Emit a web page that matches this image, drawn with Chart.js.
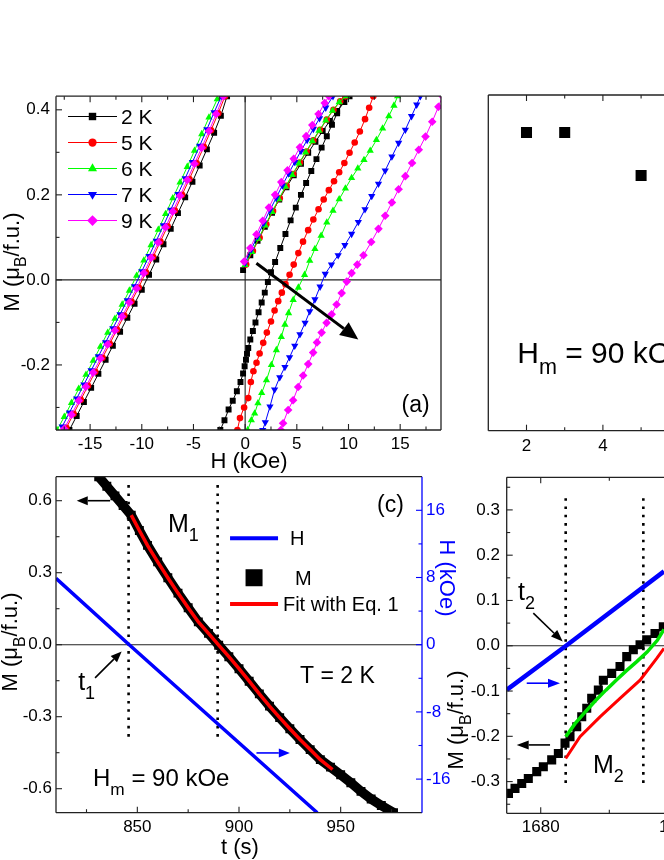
<!DOCTYPE html>
<html>
<head>
<meta charset="utf-8">
<title>Magnetization loops and field sweeps</title>
<script src="https://cdn.jsdelivr.net/npm/chart.js@4.4.1/dist/chart.umd.min.js"></script>
<style>
  html, body { margin: 0; padding: 0; background: #fff; width: 664px; height: 860px; overflow: hidden; }
  canvas { position: absolute; }
</style>
</head>
<body>
<canvas id="chartA" width="460" height="395" style="left:0;top:80px"></canvas>
<canvas id="chartB" width="300" height="395" style="left:440px;top:80px"></canvas>
<canvas id="chartC" width="470" height="405" style="left:0;top:455px"></canvas>
<canvas id="chartD" width="320" height="405" style="left:420px;top:455px"></canvas>
<script>
const FONT = '"Liberation Sans", Arial, Helvetica, sans-serif';
Chart.defaults.font.family = FONT;
Chart.defaults.font.size = 17;
Chart.defaults.color = '#000';

// ---------- panel (a): M(H) at several temperatures ----------
const tempLabels = ['2 K', '5 K', '6 K', '7 K', '9 K'];

// [H (kOe), M (muB/f.u.)]
const left2K = [[-17.0,-0.353],[-16.3,-0.320],[-15.6,-0.287],[-14.9,-0.254],[-14.2,-0.221],[-13.5,-0.188],[-12.8,-0.155],[-12.1,-0.122],[-11.4,-0.089],[-10.7,-0.056],[-10.0,-0.023],[-9.3,0.012],[-8.6,0.048],[-7.9,0.084],[-7.2,0.120],[-6.5,0.157],[-5.8,0.194],[-5.1,0.231],[-4.4,0.269],[-3.7,0.307],[-3.0,0.346],[-2.35,0.386],[-1.75,0.432]];
const up2K = [[-0.2,0.023],[0.5,0.058],[1.2,0.092],[1.9,0.125],[2.6,0.158],[3.3,0.189],[4.0,0.218],[4.7,0.246],[5.4,0.273],[6.1,0.299],[6.8,0.325],[7.5,0.350],[8.2,0.374],[8.9,0.397],[9.6,0.418],[10.1,0.432]];
const rise2K = [[-2.4,-0.353],[-2.0,-0.330],[-1.6,-0.305],[-1.2,-0.284],[-0.8,-0.262],[-0.45,-0.240],[-0.2,-0.220],[-0.05,-0.203],[0.08,-0.188],[0.18,-0.174],[0.3,-0.160],[0.5,-0.140],[0.75,-0.120],[1.0,-0.100],[1.3,-0.076],[1.6,-0.053],[1.9,-0.030],[2.2,-0.005],[2.5,0.018],[2.9,0.042],[3.4,0.075],[3.9,0.108],[4.4,0.140],[4.9,0.170],[5.4,0.200],[5.9,0.228],[6.4,0.256],[6.9,0.284],[7.4,0.311],[7.9,0.338],[8.4,0.365],[8.9,0.392],[9.4,0.418],[9.7,0.432]];

const left5K = [[-17.3,-0.348],[-16.6,-0.315],[-15.9,-0.282],[-15.2,-0.249],[-14.5,-0.216],[-13.8,-0.183],[-13.1,-0.150],[-12.4,-0.117],[-11.7,-0.084],[-11.0,-0.051],[-10.3,-0.018],[-9.6,0.018],[-8.9,0.054],[-8.2,0.090],[-7.5,0.126],[-6.8,0.163],[-6.1,0.200],[-5.4,0.237],[-4.7,0.275],[-4.0,0.313],[-3.3,0.352],[-2.6,0.392],[-1.95,0.432]];
const up5K = [[0.1,0.036],[0.75,0.068],[1.4,0.099],[2.05,0.131],[2.7,0.162],[3.35,0.192],[4.0,0.221],[4.65,0.249],[5.3,0.276],[5.95,0.302],[6.6,0.328],[7.25,0.353],[7.9,0.377],[8.55,0.400],[9.2,0.420],[9.7,0.432]];
const rise5K = [[-0.75,-0.353],[-0.5,-0.325],[-0.1,-0.300],[0.3,-0.278],[0.55,-0.240],[0.8,-0.215],[1.1,-0.195],[1.4,-0.173],[1.75,-0.148],[2.1,-0.124],[2.5,-0.098],[2.85,-0.072],[3.2,-0.050],[3.55,-0.030],[3.9,-0.010],[4.3,0.012],[4.7,0.036],[5.15,0.063],[5.6,0.090],[6.1,0.117],[6.6,0.142],[7.1,0.166],[7.6,0.189],[8.1,0.211],[8.6,0.232],[9.1,0.253],[9.6,0.275],[10.1,0.299],[10.6,0.323],[11.1,0.349],[11.6,0.378],[12.0,0.405],[12.4,0.432]];

const left6K = [[-18.2,-0.353],[-17.5,-0.322],[-16.8,-0.289],[-16.1,-0.256],[-15.4,-0.223],[-14.7,-0.190],[-14.0,-0.157],[-13.3,-0.124],[-12.6,-0.091],[-11.9,-0.058],[-11.2,-0.025],[-10.5,0.010],[-9.8,0.046],[-9.1,0.082],[-8.4,0.118],[-7.7,0.155],[-7.0,0.192],[-6.3,0.229],[-5.6,0.266],[-4.9,0.304],[-4.2,0.343],[-3.5,0.382],[-2.7,0.425]];
const up6K = [[0.0,0.035],[0.65,0.066],[1.3,0.097],[1.95,0.128],[2.6,0.160],[3.25,0.190],[3.9,0.219],[4.55,0.247],[5.2,0.274],[5.85,0.300],[6.5,0.326],[7.15,0.351],[7.8,0.375],[8.45,0.398],[9.1,0.418],[9.8,0.432]];
const rise6K = [[0.25,-0.353],[0.6,-0.330],[0.92,-0.314],[1.24,-0.290],[1.6,-0.266],[2.06,-0.236],[2.54,-0.200],[3.02,-0.165],[3.5,-0.134],[3.85,-0.105],[4.2,-0.078],[4.65,-0.047],[5.15,-0.018],[5.75,0.012],[6.25,0.045],[6.75,0.073],[7.35,0.104],[7.9,0.135],[8.5,0.163],[9.1,0.190],[9.7,0.215],[10.3,0.240],[10.9,0.262],[11.5,0.282],[12.1,0.304],[12.7,0.329],[13.3,0.356],[13.9,0.385],[14.4,0.410],[14.75,0.432]];

const left7K = [[-17.7,-0.345],[-17.0,-0.312],[-16.3,-0.279],[-15.6,-0.246],[-14.9,-0.213],[-14.2,-0.180],[-13.5,-0.147],[-12.8,-0.114],[-12.1,-0.081],[-11.4,-0.048],[-10.7,-0.015],[-10.0,0.020],[-9.3,0.056],[-8.6,0.092],[-7.9,0.128],[-7.2,0.165],[-6.5,0.202],[-5.8,0.239],[-5.1,0.277],[-4.4,0.315],[-3.7,0.354],[-3.0,0.394],[-2.3,0.432]];
const up7K = [[0.0,0.040],[0.6,0.072],[1.2,0.103],[1.8,0.134],[2.4,0.164],[3.0,0.193],[3.6,0.222],[4.2,0.250],[4.8,0.277],[5.4,0.303],[6.0,0.329],[6.6,0.355],[7.2,0.380],[7.8,0.405],[8.5,0.432]];
const rise7K = [[1.7,-0.353],[1.95,-0.335],[2.4,-0.298],[2.85,-0.258],[3.35,-0.229],[3.85,-0.205],[4.3,-0.182],[4.8,-0.155],[5.3,-0.128],[5.8,-0.101],[6.25,-0.074],[6.75,-0.046],[7.25,-0.016],[7.75,0.014],[8.35,0.036],[9.0,0.058],[9.65,0.082],[10.3,0.108],[10.95,0.136],[11.6,0.166],[12.25,0.197],[12.9,0.226],[13.55,0.257],[14.2,0.290],[14.85,0.322],[15.5,0.353],[16.1,0.385],[16.6,0.412],[16.95,0.432]];

const left9K = [[-17.5,-0.350],[-16.8,-0.317],[-16.1,-0.284],[-15.4,-0.251],[-14.7,-0.218],[-14.0,-0.185],[-13.3,-0.152],[-12.6,-0.119],[-11.9,-0.086],[-11.2,-0.053],[-10.5,-0.020],[-9.8,0.016],[-9.1,0.052],[-8.4,0.088],[-7.7,0.124],[-7.0,0.161],[-6.3,0.198],[-5.6,0.235],[-4.9,0.273],[-4.2,0.311],[-3.5,0.350],[-2.8,0.390],[-2.1,0.432]];
const up9K = [[-0.1,0.043],[0.5,0.075],[1.1,0.107],[1.7,0.139],[2.3,0.170],[2.9,0.200],[3.5,0.230],[4.1,0.258],[4.7,0.285],[5.3,0.312],[5.9,0.338],[6.5,0.364],[7.1,0.390],[7.7,0.416],[8.1,0.432]];
const rise9K = [[3.45,-0.353],[3.67,-0.337],[4.16,-0.306],[4.64,-0.283],[5.13,-0.252],[5.61,-0.225],[6.1,-0.198],[6.58,-0.171],[6.95,-0.147],[7.4,-0.124],[7.88,-0.101],[8.37,-0.081],[8.85,-0.058],[9.34,-0.031],[9.83,-0.004],[10.3,0.016],[10.85,0.036],[11.45,0.058],[12.2,0.089],[12.9,0.120],[13.55,0.151],[14.2,0.182],[14.85,0.213],[15.5,0.244],[16.15,0.275],[16.8,0.306],[17.45,0.337],[18.1,0.372],[18.7,0.407],[19.1,0.432]];

const aHTicks = [-15, -10, -5, 0, 5, 10, 15];
const aHMinor = [-17.5, -12.5, -7.5, -2.5, 2.5, 7.5, 12.5, 17.5];
const aMTicks = [-0.2, 0, 0.2, 0.4];
const aMMinor = [-0.3, -0.1, 0.1, 0.3];

// ---------- panel (b) ----------
const bTemp = [2, 3, 5];
const bValue = [0.888, 0.888, 0.76];   // left axis labels are cut off: normalised 0..1
const bTTicks = [2, 4, 6];
const bTMinor = [3, 5, 7];

// ---------- panel (c): sweep through t1 ----------
const cTime = [831,835,839,843,847,851,855,860,865,870,875,880,885,890,895,900,905,910,915,920,925,930,935,940,945,950,955,960,965,970,976];
const cMag  = [0.70,0.66,0.62,0.58,0.54,0.476,0.414,0.345,0.279,0.215,0.154,0.095,0.047,-0.002,-0.05,-0.10,-0.152,-0.205,-0.256,-0.304,-0.35,-0.395,-0.437,-0.479,-0.51,-0.542,-0.575,-0.611,-0.643,-0.67,-0.70];
const cFitTime = [847,851,855,860,865,870,875,880,885,890,895,900,905,910,915,920,925,930,935,940,946];
const cFitMag  = [0.54,0.476,0.414,0.345,0.279,0.215,0.154,0.095,0.047,-0.002,-0.05,-0.10,-0.152,-0.205,-0.256,-0.304,-0.35,-0.395,-0.437,-0.479,-0.52];
const cFieldTime = [810, 846, 938.5];
const cField = [7.9, 0, -20];
const cMarkTimes = [845.7, 889.5];
const cTTicks = [850, 900, 950];
const cTMinor = [825, 875, 925, 975];
const cMTicks = [-0.6, -0.3, 0, 0.3, 0.6];
const cMMinor = [-0.45, -0.15, 0.15, 0.45];
const cHTicks = [-16, -8, 0, 8, 16];
const cHMinor = [-12, -4, 4, 12];

// ---------- panel (d): sweep through t2 ----------
const dTime = [1675.3,1676.25,1677.23,1678.19,1679.42,1680.38,1681.6,1682.57,1683.54,1684.27,1685.25,1685.98,1686.71,1687.43,1688.4,1689.13,1690.35,1691.56,1692.54,1693.5,1694.48,1695.45,1696.66,1697.87];
const dMag  = [-0.326,-0.315,-0.304,-0.293,-0.278,-0.267,-0.252,-0.238,-0.215,-0.201,-0.179,-0.157,-0.138,-0.116,-0.098,-0.076,-0.061,-0.046,-0.024,-0.009,0.002,0.013,0.027,0.042];
const dGreenTime = [1683.64,1685,1686.5,1688,1689.5,1691,1692.5,1694,1695.5,1697,1697.97];
const dGreenMag  = [-0.201,-0.172,-0.146,-0.121,-0.098,-0.076,-0.055,-0.035,-0.014,0.012,0.036];
const dRedTime = [1683.64,1685.73,1688.64,1691.56,1694.48,1696.91,1697.97];
const dRedMag  = [-0.249,-0.201,-0.157,-0.116,-0.076,-0.028,-0.006];
const dFieldTime = [1675.04, 1683.79, 1697.97];
const dField = [-5.3, 0, 8.8];
const dMarkTimes = [1683.64, 1694.96];
const dTTicks = [1680, 1700];
const dTMinor = [1690];
const dMTicks = [-0.3, -0.2, -0.1, 0, 0.1, 0.2, 0.3];
const dMMinor = [-0.35, -0.25, -0.15, -0.05, 0.05, 0.15, 0.25, 0.35];

// ---------- styles ----------
const tempColors = ['#000000', '#ff0000', '#00ff00', '#0000ff', '#ff00ff'];
const tempMarks = [
  { style: 'rect', r: 4.2, rot: 0 },
  { style: 'circle', r: 3.3, rot: 0 },
  { style: 'triangle', r: 4.2, rot: 0 },
  { style: 'triangle', r: 4.2, rot: 180 },
  { style: 'rectRot', r: 4.3, rot: 0 }
];
const aBranches = [[left2K, up2K, rise2K], [left5K, up5K, rise5K], [left6K, up6K, rise6K], [left7K, up7K, rise7K], [left9K, up9K, rise9K]];
const AXIS = '#222';
const BLUE = '#0000ff';

// ---------- helpers ----------
function pairs(xs, ys) { return xs.map((v, i) => ({ x: v, y: ys[i] })); }

function pt(chart, xv, yv, yid) {
  return [chart.scales.x.getPixelForValue(xv), chart.scales[yid || 'y'].getPixelForValue(yv)];
}

function seg(ctx, x1, y1, x2, y2) {
  ctx.beginPath(); ctx.moveTo(x1, y1); ctx.lineTo(x2, y2); ctx.stroke();
}

// parts: [[text, isSub], ...]
function richText(ctx, parts, x, y, size, o) {
  o = o || {};
  const sub = size * 0.72;
  ctx.save();
  ctx.translate(x, y);
  if (o.rot) ctx.rotate(o.rot);
  ctx.fillStyle = o.color || '#000';
  ctx.textBaseline = 'alphabetic';
  ctx.textAlign = 'left';
  let w = 0;
  parts.forEach(p => { ctx.font = (p[1] ? sub : size) + 'px ' + FONT; w += ctx.measureText(p[0]).width; });
  let cx = o.align === 'center' ? -w / 2 : 0;
  parts.forEach(p => {
    ctx.font = (p[1] ? sub : size) + 'px ' + FONT;
    ctx.fillText(p[0], cx, p[1] ? size * 0.36 : 0);
    cx += ctx.measureText(p[0]).width;
  });
  ctx.restore();
}

function arrow(ctx, p1, p2, color, width, headLen, headHalf) {
  const ang = Math.atan2(p2[1] - p1[1], p2[0] - p1[0]);
  const bx = p2[0] - Math.cos(ang) * headLen, by = p2[1] - Math.sin(ang) * headLen;
  ctx.save();
  ctx.strokeStyle = color; ctx.fillStyle = color; ctx.lineWidth = width;
  seg(ctx, p1[0], p1[1], bx, by);
  ctx.beginPath();
  ctx.moveTo(p2[0], p2[1]);
  ctx.lineTo(bx + Math.sin(ang) * headHalf, by - Math.cos(ang) * headHalf);
  ctx.lineTo(bx - Math.sin(ang) * headHalf, by + Math.cos(ang) * headHalf);
  ctx.closePath(); ctx.fill();
  ctx.restore();
}

function frame(ctx, a, sides, color) {
  ctx.save();
  ctx.strokeStyle = color; ctx.lineWidth = 1.3;
  if (sides.includes('left')) seg(ctx, a.left, a.top, a.left, a.bottom);
  if (sides.includes('right')) seg(ctx, a.right, a.top, a.right, a.bottom);
  if (sides.includes('top')) seg(ctx, a.left, a.top, a.right, a.top);
  if (sides.includes('bottom')) seg(ctx, a.left, a.bottom, a.right, a.bottom);
  ctx.restore();
}

function tickMarks(ctx, a, scale, values, len, sides, color) {
  ctx.save();
  ctx.strokeStyle = color; ctx.lineWidth = 1.1;
  values.forEach(v => {
    if (v < scale.min || v > scale.max) return;
    const p = scale.getPixelForValue(v);
    sides.forEach(s => {
      if (s === 'bottom') seg(ctx, p, a.bottom, p, a.bottom - len);
      if (s === 'top') seg(ctx, p, a.top, p, a.top + len);
      if (s === 'left') seg(ctx, a.left, p, a.left + len, p);
      if (s === 'right') seg(ctx, a.right, p, a.right - len, p);
    });
  });
  ctx.restore();
}

function dotted(ctx, chart, t, m1, m2) {
  const p1 = pt(chart, t, m1), p2 = pt(chart, t, m2);
  ctx.save();
  ctx.strokeStyle = '#000'; ctx.lineWidth = 2.6; ctx.setLineDash([2.6, 5.7]);
  seg(ctx, p1[0], p1[1], p2[0], p2[1]);
  ctx.restore();
}

function axis(min, max, ticks, fmt, size, pad, extra) {
  return Object.assign({
    type: 'linear', min: min, max: max,
    grid: { display: false, drawTicks: false },
    border: { display: false },
    ticks: { autoSkip: false, padding: pad, maxRotation: 0, callback: fmt, font: { size: 17 } },
    afterBuildTicks: s => { s.ticks = ticks.map(v => ({ value: v })); },
    afterFit: s => { if (s.isHorizontal()) s.height = size; else s.width = size; }
  }, extra || {});
}

const baseOpts = {
  responsive: false, animation: false, events: [],
  plugins: { legend: { display: false }, tooltip: { enabled: false } }
};

// ---------- chart (a) ----------
const aSets = [];
aBranches.forEach((group, i) => group.forEach(pts => aSets.push({
  data: pts.map(p => ({ x: p[0], y: p[1] })),
  showLine: true, borderColor: tempColors[i], backgroundColor: tempColors[i], borderWidth: 1,
  pointStyle: tempMarks[i].style, pointRadius: tempMarks[i].r, pointRotation: tempMarks[i].rot,
  pointBorderWidth: 0, clip: 0, order: 5 - i
})));

const panelA = {
  id: 'panelA',
  beforeDatasetsDraw(chart) {
    const { ctx, chartArea: a } = chart;
    const o = pt(chart, 0, 0);
    ctx.save(); ctx.strokeStyle = AXIS; ctx.lineWidth = 1.1;
    seg(ctx, a.left, o[1], a.right, o[1]);
    seg(ctx, o[0], a.top, o[0], a.bottom);
    ctx.restore();
  },
  afterDatasetsDraw(chart) {
    const { ctx, chartArea: a, scales } = chart;
    frame(ctx, a, ['left', 'top', 'right', 'bottom'], AXIS);
    tickMarks(ctx, a, scales.x, aHTicks, 6, ['bottom', 'top'], AXIS);
    tickMarks(ctx, a, scales.x, aHMinor, 3.5, ['bottom', 'top'], AXIS);
    tickMarks(ctx, a, scales.y, aMTicks, 6, ['left'], AXIS);
    tickMarks(ctx, a, scales.y, aMMinor, 3.5, ['left'], AXIS);
    tempLabels.forEach((lab, i) => {
      const yy = a.top + 20.3 + i * 26;
      ctx.save();
      ctx.strokeStyle = tempColors[i]; ctx.fillStyle = tempColors[i]; ctx.lineWidth = 1;
      seg(ctx, a.left + 12, yy, a.left + 61, yy);
      Chart.helpers.drawPoint(ctx, { pointStyle: tempMarks[i].style, radius: tempMarks[i].r * 1.25, rotation: tempMarks[i].rot, borderWidth: 0 }, a.left + 36.5, yy);
      ctx.restore();
      richText(ctx, [[lab]], a.left + 65, yy + 7.6, 21);
    });
    arrow(ctx, pt(chart, 1.09, 0.039), pt(chart, 10.95, -0.14), '#000', 3, 18, 8);
    const la = pt(chart, 15.14, -0.311);
    richText(ctx, [['(a)']], la[0], la[1], 23);
    richText(ctx, [['H (kOe)']], 249, 388, 22, { align: 'center' });
    richText(ctx, [['M (μ'], ['B', 1], ['/f.u.)']], 18.5, 182, 22, { align: 'center', rot: -Math.PI / 2 });
  }
};

new Chart(document.getElementById('chartA'), {
  type: 'scatter',
  data: { datasets: aSets },
  options: Object.assign({}, baseOpts, {
    layout: { padding: { top: 13, right: 19, left: 0, bottom: 0 } },
    scales: {
      x: axis(-18.3, 18.95, aHTicks, v => String(v), 45, 4, { position: 'bottom' }),
      y: axis(-0.353, 0.432, aMTicks, v => v.toFixed(1), 56, 6, { position: 'left' })
    }
  }),
  plugins: [panelA]
});

// ---------- chart (b) ----------
const panelB = {
  id: 'panelB',
  afterDatasetsDraw(chart) {
    const { ctx, chartArea: a, scales } = chart;
    frame(ctx, a, ['left', 'top', 'right', 'bottom'], AXIS);
    tickMarks(ctx, a, scales.x, bTTicks, 6, ['bottom', 'top'], AXIS);
    tickMarks(ctx, a, scales.x, bTMinor, 3.5, ['bottom', 'top'], AXIS);
    const p = pt(chart, 1.757, 0.2008);
    richText(ctx, [['H'], ['m', 1], [' = 90 kOe']], p[0], p[1], 30);
  }
};

new Chart(document.getElementById('chartB'), {
  type: 'scatter',
  data: { datasets: [{
    data: pairs(bTemp, bValue), showLine: false,
    pointStyle: 'rect', pointRadius: 7.8, backgroundColor: '#000', pointBorderWidth: 0, clip: 0
  }] },
  options: Object.assign({}, baseOpts, {
    layout: { padding: { top: 15, right: 22.5, left: 48.3, bottom: 0 } },
    scales: {
      x: axis(1, 7, bTTicks, v => String(v), 44.3, 5, { position: 'bottom' }),
      y: { type: 'linear', min: 0, max: 1, display: false }
    }
  }),
  plugins: [panelB]
});

// ---------- chart (c) ----------
const panelC = {
  id: 'panelC',
  beforeDatasetsDraw(chart) {
    const { ctx, chartArea: a } = chart;
    const o = pt(chart, 0, 0);
    ctx.save(); ctx.strokeStyle = AXIS; ctx.lineWidth = 1.1;
    seg(ctx, a.left, o[1], a.right, o[1]);
    ctx.restore();
    cMarkTimes.forEach(t => dotted(ctx, chart, t, 0.665, -0.388));
  },
  afterDatasetsDraw(chart) {
    const { ctx, chartArea: a, scales } = chart;
    frame(ctx, a, ['left', 'top', 'bottom'], AXIS);
    frame(ctx, a, ['right'], BLUE);
    tickMarks(ctx, a, scales.x, cTTicks, 6, ['bottom'], AXIS);
    tickMarks(ctx, a, scales.x, cTMinor, 3.5, ['bottom'], AXIS);
    tickMarks(ctx, a, scales.y, cMTicks, 6, ['left'], AXIS);
    tickMarks(ctx, a, scales.y, cMMinor, 3.5, ['left'], AXIS);
    tickMarks(ctx, a, scales.y2, cHTicks, 6, ['right'], BLUE);
    tickMarks(ctx, a, scales.y2, cHMinor, 3.5, ['right'], BLUE);

    // legend
    ctx.save();
    ctx.lineWidth = 4;
    let p1 = pt(chart, 895.6, 0.444), p2 = pt(chart, 919.2, 0.444);
    ctx.strokeStyle = BLUE; seg(ctx, p1[0], p1[1], p2[0], p2[1]);
    p1 = pt(chart, 895.6, 0.170); p2 = pt(chart, 919.2, 0.170);
    ctx.strokeStyle = '#ff0000'; seg(ctx, p1[0], p1[1], p2[0], p2[1]);
    const sq = pt(chart, 907.4, 0.279);
    ctx.fillStyle = '#000'; ctx.fillRect(sq[0] - 8.5, sq[1] - 8.5, 17, 17);
    ctx.restore();
    let q = pt(chart, 925.1, 0.444); richText(ctx, [['H']], q[0], q[1] + 7.2, 20);
    q = pt(chart, 927.5, 0.279); richText(ctx, [['M']], q[0], q[1] + 7.2, 20);
    q = pt(chart, 921.6, 0.170); richText(ctx, [['Fit with Eq. 1']], q[0], q[1] + 7.2, 20);

    // arrows
    arrow(ctx, pt(chart, 836.6, 0.6), pt(chart, 820.2, 0.6), '#000', 1.6, 11, 4.5);
    arrow(ctx, pt(chart, 908.6, -0.451), pt(chart, 925, -0.451), BLUE, 1.6, 11, 4.5);
    arrow(ctx, pt(chart, 829.2, -0.138), pt(chart, 842.3, -0.028), '#000', 1.6, 11, 4.5);

    // texts
    q = pt(chart, 967.9, 0.553); richText(ctx, [['(c)']], q[0], q[1], 23);
    q = pt(chart, 865.1, 0.471); richText(ctx, [['M'], ['1', 1]], q[0], q[1], 25);
    q = pt(chart, 930, -0.158); richText(ctx, [['T = 2 K']], q[0], q[1], 23);
    q = pt(chart, 828.2, -0.59); richText(ctx, [['H'], ['m', 1], [' = 90 kOe']], q[0], q[1], 24);
    q = pt(chart, 820.9, -0.187); richText(ctx, [['t'], ['1', 1]], q[0], q[1], 25);

    // axis titles
    richText(ctx, [['t (s)']], 240, 399, 22, { align: 'center' });
    richText(ctx, [['M (μ'], ['B', 1], ['/f.u.)']], 17, 187, 22, { align: 'center', rot: -Math.PI / 2 });
    richText(ctx, [['H (kOe)']], 440, 123, 22, { align: 'center', rot: Math.PI / 2, color: BLUE });
  }
};

new Chart(document.getElementById('chartC'), {
  type: 'scatter',
  data: { datasets: [
    { data: pairs(cFitTime, cFitMag), showLine: true, borderColor: '#ff0000', borderWidth: 3.5, pointRadius: 0, clip: 0, order: 1 },
    { data: pairs(cTime, cMag), showLine: true, borderColor: '#000', backgroundColor: '#000', borderWidth: 9.5,
      pointStyle: 'rect', pointRadius: 6.3, pointBorderWidth: 0, clip: 0, order: 2 },
    { data: pairs(cFieldTime, cField), yAxisID: 'y2', showLine: true, borderColor: BLUE, borderWidth: 3.5, pointRadius: 0, clip: 0, order: 3 }
  ] },
  options: Object.assign({}, baseOpts, {
    layout: { padding: { top: 21.7, right: 0, left: 0, bottom: 0 } },
    scales: {
      x: axis(810, 990, cTTicks, v => String(v), 47.3, 4, { position: 'bottom' }),
      y: axis(-0.7, 0.7, cMTicks, v => v.toFixed(1), 56, 4, { position: 'left' }),
      y2: axis(-20, 20, cHTicks, v => String(v), 48, 4, { position: 'right' })
    }
  }),
  plugins: [panelC]
});
Chart.getChart('chartC').options.scales.y2.ticks.color = BLUE;
Chart.getChart('chartC').update();

// ---------- chart (d) ----------
const panelD = {
  id: 'panelD',
  beforeDatasetsDraw(chart) {
    const { ctx, chartArea: a } = chart;
    const o = pt(chart, 1680, 0);
    ctx.save(); ctx.strokeStyle = AXIS; ctx.lineWidth = 1.1;
    seg(ctx, a.left, o[1], a.right, o[1]);
    ctx.restore();
    dMarkTimes.forEach(t => dotted(ctx, chart, t, 0.326, -0.315));
  },
  afterDatasetsDraw(chart) {
    const { ctx, chartArea: a, scales } = chart;
    frame(ctx, a, ['left', 'top', 'right', 'bottom'], AXIS);
    tickMarks(ctx, a, scales.x, dTTicks, 6, ['bottom', 'top'], AXIS);
    tickMarks(ctx, a, scales.x, dTMinor, 3.5, ['bottom', 'top'], AXIS);
    tickMarks(ctx, a, scales.y, dMTicks, 6, ['left'], AXIS);
    tickMarks(ctx, a, scales.y, dMMinor, 3.5, ['left'], AXIS);

    arrow(ctx, pt(chart, 1678.92, 0.0719), pt(chart, 1683.21, 0.0092), '#000', 1.6, 12, 4.5);
    arrow(ctx, pt(chart, 1677.96, -0.0827), pt(chart, 1682.81, -0.0827), BLUE, 1.6, 12, 4.5);
    arrow(ctx, pt(chart, 1681.36, -0.219), pt(chart, 1676.5, -0.219), '#000', 1.6, 12, 4.5);

    let q = pt(chart, 1676.69, 0.101); richText(ctx, [['t'], ['2', 1]], q[0], q[1], 25);
    q = pt(chart, 1687.62, -0.281); richText(ctx, [['M'], ['2', 1]], q[0], q[1], 25);

    richText(ctx, [['M (μ'], ['B', 1], ['/f.u.)']], 43, 265, 22, { align: 'center', rot: -Math.PI / 2 });
  }
};

new Chart(document.getElementById('chartD'), {
  type: 'scatter',
  data: { datasets: [
    { data: pairs(dGreenTime, dGreenMag), showLine: true, borderColor: '#00e400', borderWidth: 3.5, pointRadius: 0, clip: 0, order: 1 },
    { data: pairs(dRedTime, dRedMag), showLine: true, borderColor: '#ff0000', borderWidth: 3, pointRadius: 0, clip: 0, order: 2 },
    { data: pairs(dTime, dMag), showLine: true, borderColor: '#000', backgroundColor: '#000', borderWidth: 2,
      pointStyle: 'rect', pointRadius: 6.4, pointBorderWidth: 0, clip: 0, order: 3 },
    { data: pairs(dFieldTime, dField), yAxisID: 'y2', showLine: true, borderColor: BLUE, borderWidth: 4.5, pointRadius: 0, clip: 0, order: 4 }
  ] },
  options: Object.assign({}, baseOpts, {
    layout: { padding: { top: 22.3, right: 27.8, left: 0, bottom: 0 } },
    scales: {
      x: axis(1675.04, 1705, dTTicks, v => String(v), 46.7, 4, { position: 'bottom' }),
      y: axis(-0.37, 0.372, dMTicks, v => v.toFixed(1), 86.7, 6.7, { position: 'left' }),
      y2: { type: 'linear', min: -20, max: 20, display: false }
    }
  }),
  plugins: [panelD]
});
</script>
</body>
</html>
